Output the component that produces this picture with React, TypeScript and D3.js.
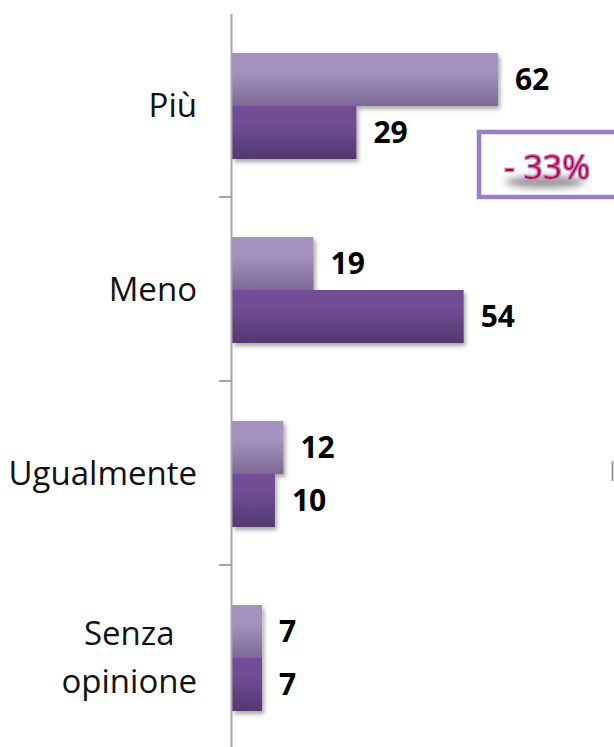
import React, { useMemo } from "react";
import * as d3 from "d3";

const categories: string[][] = [["Più"], ["Meno"], ["Ugualmente"], ["Senza", "opinione"]];
const seriesNames = ["prima", "dopo"];
const prima = [62, 19, 12, 7];
const dopo = [29, 54, 10, 7];
const changeLabel = "- 33%";

const W = 614;
const H = 747;

function measure(text: string, font: string): number {
  const c = document.createElement("canvas");
  const ctx = c.getContext("2d");
  if (!ctx) return text.length * 16;
  ctx.font = font;
  return ctx.measureText(text).width;
}

export default function App() {
  const catKeys = categories.map((c) => c.join(" "));
  const y0 = d3.scaleBand<string>().domain(catKeys).range([14, 750]);
  const y1 = d3.scaleBand<string>().domain(seriesNames).range([39, 145]);
  const x = d3.scaleLinear().domain([0, 100]).range([232, 661]);
  const axisX = x(0);
  const catFont = "33px 'Open Sans'";

  const labelRight = 197;
  const layouts = useMemo(
    () =>
      categories.map((lines) => {
        const widths = lines.map((l) => measure(l, catFont));
        return Math.max(...widths);
      }),
    []
  );

  const colors = [
    { top: "#a592bf", bottom: "#7d6997" },
    { top: "#6f4d94", bottom: "#523970" },
  ];

  const values = [prima, dopo];

  return (
    <svg
      width={W}
      height={H}
      style={{ position: "absolute", left: 0, top: 0, background: "#fff" }}
    >
      <defs>
        {colors.map((c, i) => (
          <linearGradient key={i} id={`g${i}`} x1="0" y1="0" x2="0" y2="1">
            <stop offset="0" stopColor={c.top} />
            <stop offset="0.35" stopColor={c.top} />
            <stop offset="1" stopColor={c.bottom} />
          </linearGradient>
        ))}
        <filter id="shadow" x="-10%" y="-20%" width="130%" height="160%">
          <feDropShadow dx="2" dy="3" stdDeviation="2" floodColor="#000" floodOpacity="0.35" />
        </filter>
        <filter id="glow" x="-20%" y="-40%" width="140%" height="180%">
          <feMorphology in="SourceAlpha" operator="dilate" radius="1.3" result="d" />
          <feFlood floodColor="#b48ade" result="c" />
          <feComposite in="c" in2="d" operator="in" result="outline" />
          <feMerge>
            <feMergeNode in="outline" />
            <feMergeNode in="SourceGraphic" />
          </feMerge>
        </filter>
        <filter id="tshadow" x="-30%" y="-100%" width="160%" height="300%">
          <feGaussianBlur stdDeviation="3.5" />
        </filter>
      </defs>

      {/* bars */}
      {catKeys.map((k, ci) => (
        <g key={k} transform={`translate(0,${y0(k)})`}>
          {seriesNames.map((s, si) => (
            <rect
              key={s}
              x={axisX}
              y={y1(s)}
              width={x(values[si][ci]) - axisX}
              height={y1.bandwidth()}
              fill={`url(#g${si})`}
              filter="url(#shadow)"
            />
          ))}
        </g>
      ))}

      {/* axis */}
      <line x1={axisX - 0.5} x2={axisX - 0.5} y1={14} y2={H} stroke="#a6a6a6" strokeWidth={2} />
      {catKeys.slice(1).map((k) => (
        <line
          key={k}
          x1={axisX - 13}
          x2={axisX}
          y1={y0(k)! - 1}
          y2={y0(k)! - 1}
          stroke="#a6a6a6"
          strokeWidth={2}
        />
      ))}

      {/* category labels */}
      {categories.map((lines, ci) => {
        const k = catKeys[ci];
        const cy = y0(k)! + y0.bandwidth() / 2 - 1;
        const lh = 48;
        const blockW = layouts[ci];
        const multi = lines.length > 1;
        return lines.map((l, li) => (
          <text
            key={k + li}
            x={multi ? labelRight - blockW / 2 : labelRight}
            y={cy + (li - (lines.length - 1) / 2) * lh}
            dy="0.35em"
            textAnchor={multi ? "middle" : "end"}
            fontFamily="'Open Sans'"
            fontSize={33}
            fill="#111"
          >
            {l}
          </text>
        ));
      })}

      {/* value labels */}
      {catKeys.map((k, ci) =>
        seriesNames.map((s, si) => (
          <text
            key={k + s}
            x={x(values[si][ci]) + 17}
            y={y0(k)! + y1(s)! + y1.bandwidth() / 2}
            dy="0.36em"
            fontFamily="'Open Sans'"
            fontWeight="bold"
            fontSize={30}
            fill="#000"
          >
            {values[si][ci]}
          </text>
        ))
      )}

      {/* change box */}
      <rect x={479} y={132} width={150} height={65} fill="#fff" stroke="#9a80c2" strokeWidth={4.5} />
      <ellipse cx={545} cy={182} rx={40} ry={6} fill="#6a6a6a" opacity={0.7} filter="url(#tshadow)" />
      <text
        x={504}
        y={179}
        fontFamily="'Open Sans'"
        fontSize={33}
        fill="#cf0028"
        filter="url(#glow)"
        textLength={86}
        lengthAdjust="spacingAndGlyphs"
      >
        {changeLabel}
      </text>

      {/* small cut-off mark at right edge */}
      <line x1={612.5} x2={612.5} y1={461} y2={481} stroke="#9a9a9a" strokeWidth={2} />
    </svg>
  );
}
